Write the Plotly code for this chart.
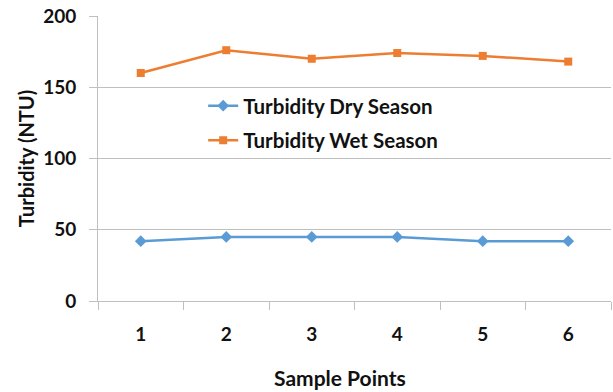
import plotly.graph_objects as go

sample_points = ["1", "2", "3", "4", "5", "6"]
dry_season = [42, 45, 45, 45, 42, 42]
wet_season = [160, 176, 170, 174, 172, 168]
y_ticks = [0, 50, 100, 150, 200]

FONT = "Lato"
GRID = "#BFBFBF"
TXT = "#111111"

fig = go.Figure()
fig.add_trace(go.Scatter(
    x=sample_points, y=dry_season, mode="lines+markers",
    name="Turbidity Dry Season", legendgroup="dry",
    line=dict(color="#5B9BD5", width=2.5),
    marker=dict(symbol="diamond", size=9, color="#5B9BD5"),
))
fig.add_trace(go.Scatter(
    x=sample_points, y=wet_season, mode="lines+markers",
    name="Turbidity Wet Season", legendgroup="wet",
    line=dict(color="#ED7D31", width=2.5),
    marker=dict(symbol="square", size=8, color="#ED7D31"),
))

fig.update_layout(
    width=613, height=392,
    margin=dict(l=98, r=2, t=16, b=91),
    paper_bgcolor="white", plot_bgcolor="white",
    font=dict(family=FONT, color=TXT),
    showlegend=True,
    legend=dict(
        x=0.205, y=0.755, xanchor="left", yanchor="top",
        bgcolor="rgba(0,0,0,0)",
        font=dict(family=FONT, size=20.5, color=TXT, weight="bold"),
        traceorder="grouped",
        tracegroupgap=5,
    ),
    xaxis=dict(
        type="category",
        range=[-0.5, 5.5],
        tickson="boundaries",
        ticks="outside", ticklen=8, tickcolor=GRID, tickwidth=1,
        showgrid=False,
        showline=True, linecolor=GRID, linewidth=1,
        tickfont=dict(family=FONT, size=19, color=TXT, weight="bold"),
        ticklabelstandoff=16,
    ),
    yaxis=dict(
        range=[0, 200],
        tickvals=y_ticks,
        ticks="outside", ticklen=8, tickcolor=GRID, tickwidth=1,
        showgrid=True, gridcolor=GRID, gridwidth=1,
        showline=True, linecolor=GRID, linewidth=1,
        zeroline=False,
        tickfont=dict(family=FONT, size=19, color=TXT, weight="bold"),
        ticklabelstandoff=9,
        title=dict(text="Turbidity (NTU)", font=dict(family=FONT, size=20, color=TXT, weight="bold"), standoff=3),
    ),
    annotations=[dict(
        text="Sample Points", xref="paper", yref="paper",
        x=(340 - 98) / 513, y=-(377 - 301) / 285,
        xanchor="center", yanchor="middle", showarrow=False,
        font=dict(family=FONT, size=21, color=TXT, weight="bold"),
    )],
)

fig.write_html("out.html")
